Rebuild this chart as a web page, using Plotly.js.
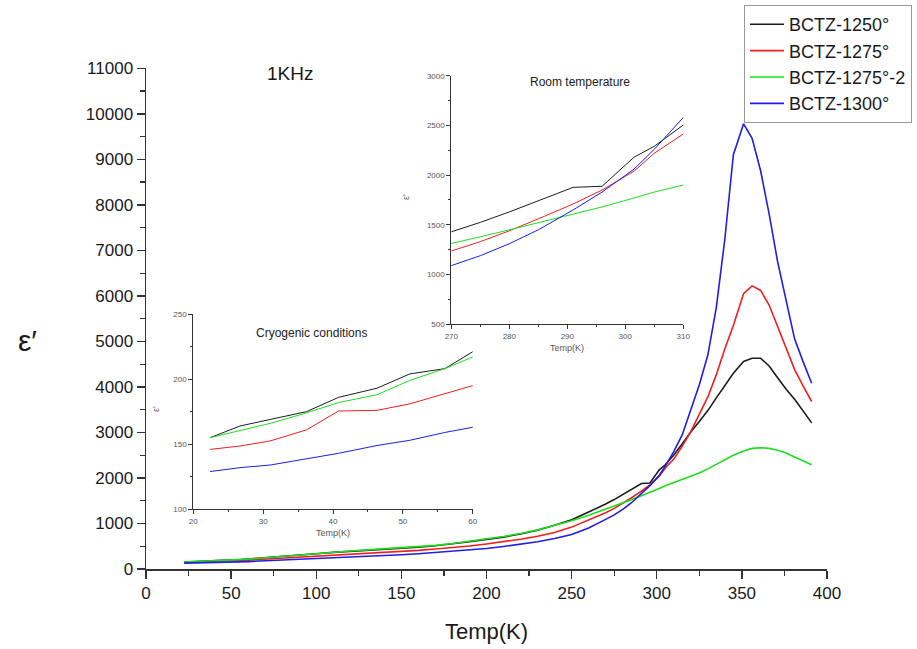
<!DOCTYPE html>
<html>
<head>
<meta charset="utf-8">
<script src="https://cdn.plot.ly/plotly-3.0.1.min.js"></script>
<style>
  html, body { margin: 0; padding: 0; background: #ffffff; }
  #chart { width: 917px; height: 649px; }
</style>
</head>
<body>
<div id="chart"></div>
<script>
// ---- Data ----
const temperature = [22.4, 26.7, 31, 36.2, 40.8, 46.3, 51, 56, 60, 70, 80, 90, 100, 110, 120, 130, 140, 150, 160, 170, 180, 190, 200, 210, 220, 230, 240, 250, 260, 265, 270, 275, 280, 285, 291, 296, 301.5, 305, 310, 315, 320, 325, 330, 335, 340, 345, 351, 356, 361, 366, 371, 376, 381, 386, 391];

const bctz1250 = [155, 164, 169, 175, 186, 193, 204, 208, 221, 245, 275, 305, 335, 365, 385, 410, 435, 455, 480, 510, 550, 600, 650, 700, 770, 850, 960, 1080, 1250, 1335, 1430, 1525, 1630, 1740, 1877, 1888, 2180, 2290, 2504, 2750, 3010, 3240, 3480, 3760, 4030, 4300, 4560, 4630, 4630, 4460, 4200, 3950, 3730, 3470, 3210];

const bctz1275 = [146, 148.6, 152.5, 161, 175.5, 176, 181, 188.5, 195, 215, 235, 255, 278, 300, 320, 340, 360, 382, 410, 440, 470, 505, 550, 600, 655, 720, 800, 920, 1070, 1150, 1237, 1331, 1440, 1560, 1710, 1850, 2040, 2220, 2414, 2700, 3020, 3390, 3780, 4270, 4840, 5350, 6050, 6220, 6120, 5800, 5330, 4850, 4380, 4020, 3680];

const bctz1275_2 = [155, 160.5, 166, 174, 182, 188, 199, 208, 217, 248, 280, 312, 345, 375, 395, 420, 445, 465, 490, 520, 560, 610, 660, 715, 780, 860, 960, 1060, 1180, 1245, 1310, 1380, 1450, 1520, 1610, 1680, 1770, 1830, 1900, 1970, 2040, 2110, 2200, 2300, 2400, 2500, 2590, 2650, 2665, 2650, 2610, 2550, 2460, 2380, 2290];

const bctz1300 = [129, 132, 134, 139, 143, 149, 153, 159, 163, 180, 195, 210, 228, 245, 262, 280, 297, 312, 335, 360, 385, 415, 450, 495, 545, 600, 670, 760, 900, 990, 1090, 1190, 1310, 1450, 1650, 1830, 2060, 2260, 2580, 2950, 3500, 4050, 4700, 5750, 7250, 9100, 9780, 9460, 8750, 7800, 6750, 5900, 5050, 4550, 4080];

const seriesNames = ['BCTZ-1250°', 'BCTZ-1275°', 'BCTZ-1275°-2', 'BCTZ-1300°'];
const seriesValues = [bctz1250, bctz1275, bctz1275_2, bctz1300];

const mainXTicks = [0, 50, 100, 150, 200, 250, 300, 350, 400];
const mainYTicks = [0, 1000, 2000, 3000, 4000, 5000, 6000, 7000, 8000, 9000, 10000, 11000];

// ---- Styles ----
const colors = ['#1c1c1c', '#f01e1e', '#1edc1e', '#1e1ee6'];
const FONT = 'Liberation Sans, Arial, sans-serif';

const traces = [];
seriesValues.forEach((vals, i) => {
  traces.push({
    x: temperature, y: vals, name: seriesNames[i], type: 'scatter', mode: 'lines',
    line: { color: colors[i], width: 1.6 }, xaxis: 'x', yaxis: 'y'
  });
});
seriesValues.forEach((vals, i) => {
  traces.push({
    x: temperature, y: vals, name: seriesNames[i], type: 'scatter', mode: 'lines',
    line: { color: colors[i], width: 1 }, xaxis: 'x2', yaxis: 'y2', showlegend: false
  });
});
seriesValues.forEach((vals, i) => {
  traces.push({
    x: temperature, y: vals, name: seriesNames[i], type: 'scatter', mode: 'lines',
    line: { color: colors[i], width: 1 }, xaxis: 'x3', yaxis: 'y3', showlegend: false
  });
});

const insetAxis = (extra) => Object.assign({
  showline: true, linecolor: '#333', linewidth: 1, ticks: 'outside', ticklen: 4,
  tickcolor: '#333', tickwidth: 1, showgrid: false, zeroline: false,
  tickfont: { family: FONT, size: 8, color: '#555' }, fixedrange: true, automargin: false
}, extra);

const mainAxis = (extra) => Object.assign({
  showline: true, linecolor: '#333', linewidth: 1.5, ticks: 'outside', ticklen: 8,
  tickcolor: '#333', tickwidth: 1.5, showgrid: false, zeroline: false,
  tickfont: { family: FONT, size: 17, color: '#1a1a1a' }, automargin: false
}, extra);

const note = (text, x, y, size, color, extra) => Object.assign({
  text: text, xref: 'paper', yref: 'paper', x: x, y: y, showarrow: false,
  xanchor: 'center', yanchor: 'middle',
  font: { family: FONT, size: size, color: color }
}, extra || {});

const layout = {
  width: 917, height: 649,
  margin: { l: 0, r: 0, t: 0, b: 80, pad: 0 },
  paper_bgcolor: '#ffffff', plot_bgcolor: '#ffffff',
  font: { family: FONT },
  showlegend: true,
  legend: {
    x: 0.8113, y: 0.9912, xanchor: 'left', yanchor: 'top',
    bordercolor: '#999', borderwidth: 1, bgcolor: '#ffffff',
    font: { family: FONT, size: 18, color: '#1a1a1a' },
    itemwidth: 34, tracegroupgap: 0
  },
  xaxis: mainAxis({
    domain: [0.15922, 0.90185], range: [0, 400], tickmode: 'array', tickvals: mainXTicks,
    ticktext: mainXTicks.map(String),
    minor: { dtick: 25, ticks: 'outside', ticklen: 5, tickcolor: '#333', tickwidth: 1.2 },
    title: { text: 'Temp(K)', font: { family: FONT, size: 22, color: '#1a1a1a' }, standoff: 21 },
    anchor: 'y'
  }),
  yaxis: mainAxis({
    domain: [0, 0.87996], range: [0, 11000], tickmode: 'array', tickvals: mainYTicks,
    ticktext: mainYTicks.map(String),
    minor: { dtick: 500, ticks: 'outside', ticklen: 5, tickcolor: '#333', tickwidth: 1.2 },
    anchor: 'x'
  }),
  xaxis2: insetAxis({
    domain: [0.21080, 0.51549], range: [20, 60], dtick: 10, anchor: 'y2',
    minor: { dtick: 5, ticks: 'outside', ticklen: 2, tickcolor: '#333' }
  }),
  yaxis2: insetAxis({
    domain: [0.10492, 0.44815], range: [100, 250], dtick: 50, anchor: 'x2',
    minor: { dtick: 25, ticks: 'outside', ticklen: 2, tickcolor: '#333' }
  }),
  xaxis3: insetAxis({
    domain: [0.49215, 0.74514], range: [270, 310], dtick: 10, anchor: 'y3',
    minor: { dtick: 5, ticks: 'outside', ticklen: 2, tickcolor: '#333' }
  }),
  yaxis3: insetAxis({
    domain: [0.43005, 0.86696], range: [500, 3000], dtick: 500, anchor: 'x3',
    minor: { dtick: 250, ticks: 'outside', ticklen: 2, tickcolor: '#333' }
  }),
  annotations: [
    note('1KHz', 0.31625, 0.87170, 19, '#1a1a1a'),
    note('ε′', 0.03053, 0.40246, 30, '#1a1a1a'),
    note('Room temperature', 0.63250, 0.85589, 12, '#222'),
    note('Cryogenic conditions', 0.33915, 0.41476, 12, '#222'),
    note('Temp(K)', 0.61832, 0.38840, 9, '#555'),
    note('Temp(K)', 0.36314, 0.06327, 9, '#555'),
    note("ε'", 0.44275, 0.65378, 9, '#555', { textangle: -90 }),
    note("ε'", 0.17012, 0.28120, 9, '#555', { textangle: -90 })
  ]
};

Plotly.newPlot('chart', traces, layout, { displayModeBar: false, staticPlot: true });
</script>
</body>
</html>
